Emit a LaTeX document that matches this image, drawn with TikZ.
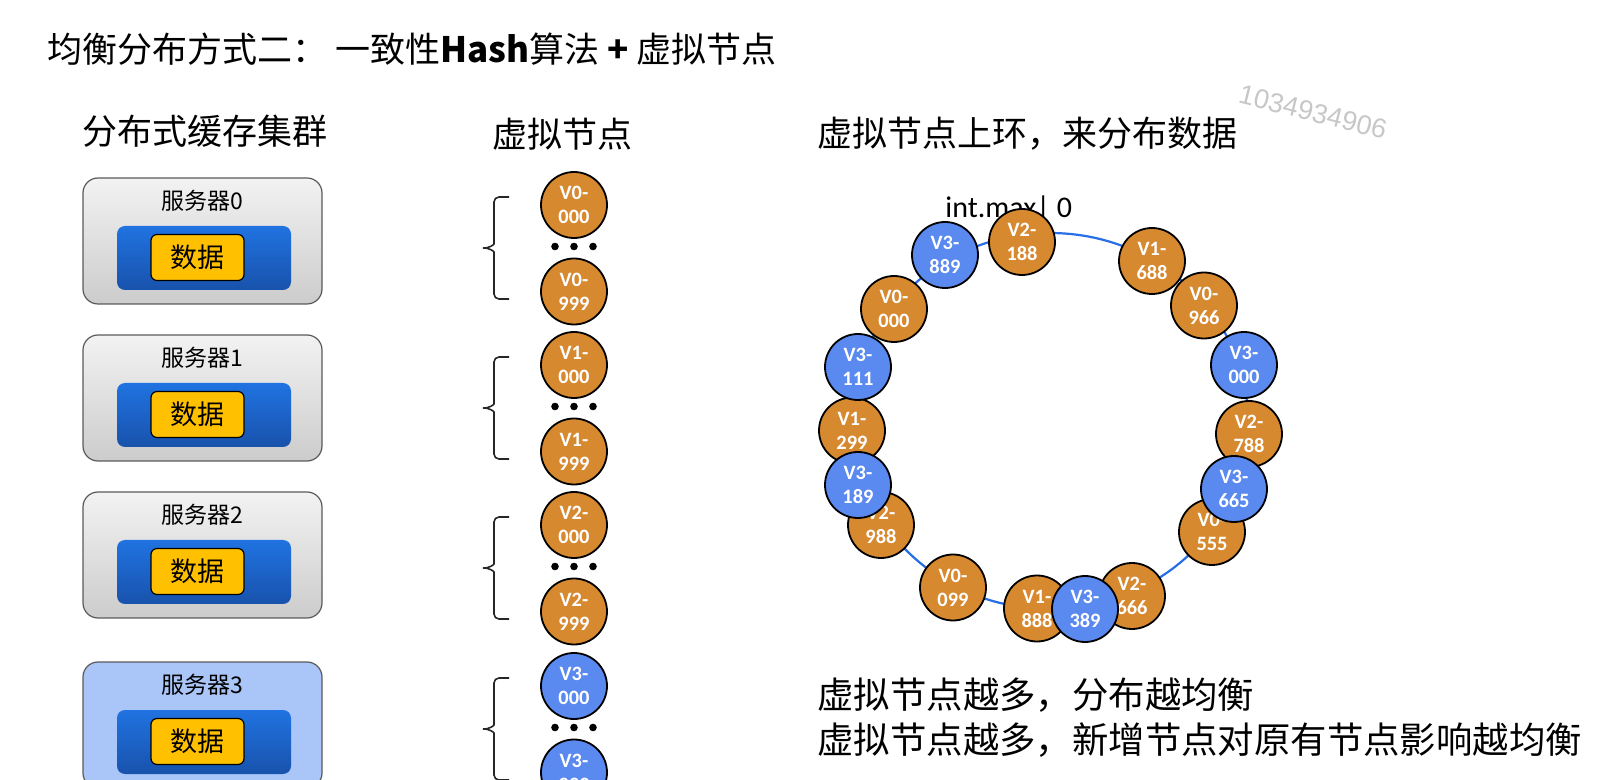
\documentclass[tikz,border=0pt]{standalone}
\usepackage{fontspec}
\setmainfont{Noto Sans CJK SC}
\newfontfamily\calfont{Carlito}
\newfontfamily\wmfont{Liberation Sans}
\definecolor{vorange}{RGB}{215,137,47}
\definecolor{vblue}{RGB}{90,137,240}
\definecolor{ringblue}{RGB}{40,110,230}
\definecolor{boxborder}{RGB}{90,90,90}
\definecolor{innertop}{RGB}{32,115,225}
\definecolor{innerbot}{RGB}{24,82,172}
\definecolor{dataY}{RGB}{255,192,0}
\definecolor{lightblue}{RGB}{170,197,248}
\tikzset{
  vn/.style={circle, draw=black, line width=0.9pt, minimum size=33pt, inner sep=0pt,
    font=\calfont\bfseries\fontsize{10.2}{12}\selectfont, text=white, align=center},
  org/.style={vn, fill=vorange},
  blu/.style={vn, fill=vblue},
  heading/.style={anchor=west, inner sep=0pt, font=\fontsize{17.5}{20}\selectfont},
  outerbox/.style={draw=boxborder, line width=0.6pt, rounded corners=7.5pt, minimum width=119.5pt, minimum height=63pt, inner sep=0pt},
  innerbox/.style={rounded corners=4pt, top color=innertop, bottom color=innerbot, minimum width=87pt, minimum height=32pt, inner sep=0pt},
  databox/.style={draw=black, line width=0.6pt, fill=dataY, rounded corners=3pt, minimum width=46.5pt, minimum height=23pt, inner sep=0pt, font=\fontsize{13.5}{14}\selectfont},
  srvlabel/.style={inner sep=0pt, font=\fontsize{11.5}{12}\selectfont},
  bracepath/.style={draw=black!85, line width=0.8pt, rounded corners=2.5pt},
  dotmark/.style={circle, fill=black, inner sep=0pt, minimum size=3.8pt}
}
\begin{document}
\begin{tikzpicture}[x=0.5pt,y=-0.5pt]
\useasboundingbox (0,0) rectangle (1602,780);
\clip (0,0) rectangle (1602,780);
% title
\node[heading] (title) at (47,49) {均衡分布方式二：\ 一致性\textbf{Hash}算法\ \textbf{+}\ 虚拟节点};
\node[heading] (h1) at (82,131) {分布式缓存集群};
\node[heading] (h2) at (492,134) {虚拟节点};
\node[heading] (h3) at (817,134) {虚拟节点上环，来分布数据};
% watermark
\node[rotate=-14, text=black!22, inner sep=0pt, font=\wmfont\fontsize{13.6}{13.6}\selectfont] (wm) at (1313,112) {1034934906};
% servers
\foreach \i/\dy in {0/0,1/157,2/314,3/484}{
  \ifnum\i=3
    \node[outerbox, fill=lightblue] (srv\i) at (202.5,241+\dy) {};
  \else
    \node[outerbox, top color=black!5, bottom color=black!20] (srv\i) at (202.5,241+\dy) {};
  \fi
  \node[srvlabel] (srvl\i) at (202,201+\dy) {服务器\i};
  \node[innerbox] (inn\i) at (204,258+\dy) {};
  \node[databox] (dat\i) at (197.5,257.5+\dy) {数据};
}
% virtual node column
\foreach \i/\t in {0/205,1/365,2/525,3/686}{
  \ifnum\i=3 \def\sty{blu}\else\def\sty{org}\fi
  \node[\sty] (c\i a) at (574,\t) {V\i-\\000};
  \node[\sty] (c\i b) at (574,\t+86.5) {V\i-\\999};
  \node[dotmark] (d\i a) at (555,\t+41.5) {};
  \node[dotmark] (d\i b) at (574,\t+41.5) {};
  \node[dotmark] (d\i c) at (593,\t+41.5) {};
  \draw[bracepath] (509,\t-8) -- (494,\t-8) -- (494,\t+34)
     .. controls (494,\t+40) and (488,\t+43) .. (480,\t+43)
     .. controls (488,\t+43) and (494,\t+46) .. (494,\t+52)
     -- (494,\t+94) -- (509,\t+94);
}
% ring
\draw[ringblue, line width=1.1pt] (1050,421) ellipse [x radius=198, y radius=188];
\node[anchor=base west, inner sep=0pt, font=\calfont\fontsize{15}{15}\selectfont] (imax) at (945,218) {int.max| 0};
\node[org] (r188) at (1022,242) {V2-\\188};
\node[org] (r688) at (1152,261) {V1-\\688};
\node[org] (r966) at (1204,305.5) {V0-\\966};
\node[org] (r788) at (1249,434) {V2-\\788};
\node[org] (r555) at (1212,532) {V0-\\555};
\node[org] (r666) at (1132,596) {V2-\\666};
\node[org] (r888) at (1037,608.5) {V1-\\888};
\node[org] (r099) at (953,587.5) {V0-\\099};
\node[org] (r988) at (881,525) {V2-\\988};
\node[org] (r299) at (852,430.6) {V1-\\299};
\node[org] (r000) at (894,309) {V0-\\000};
\node[blu] (b889) at (945,255) {V3-\\889};
\node[blu] (b000) at (1244,365) {V3-\\000};
\node[blu] (b665) at (1234,489) {V3-\\665};
\node[blu] (b389) at (1085,609) {V3-\\389};
\node[blu] (b189) at (858,485) {V3-\\189};
\node[blu] (b111) at (858,367) {V3-\\111};
% bottom notes
\node[heading, font=\fontsize{18.2}{20}\selectfont] (n1) at (817,695) {虚拟节点越多，分布越均衡};
\node[heading, font=\fontsize{18.2}{20}\selectfont] (n2) at (817,740) {虚拟节点越多，新增节点对原有节点影响越均衡};
\end{tikzpicture}
\end{document}
